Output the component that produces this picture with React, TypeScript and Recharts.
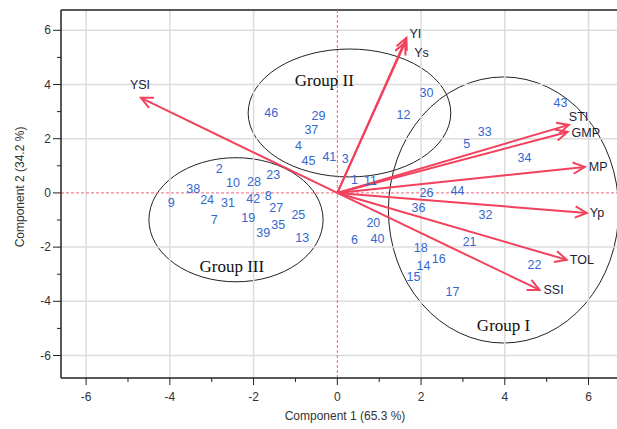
import React from 'react';
import {
  ScatterChart,
  Scatter,
  XAxis,
  YAxis,
  ReferenceLine,
  ReferenceArea,
  ReferenceDot,
} from 'recharts';

// genotype scores
const SAMPLE_IDS = [
  '1', '2', '3', '4', '5', '6', '7', '8', '9', '10', '11', '12', '13', '14', '15', '16',
  '17', '18', '19', '20', '21', '22', '23', '24', '25', '26', '27', '28', '29', '30', '31',
  '32', '33', '34', '35', '36', '37', '38', '39', '40', '41', '42', '43', '44', '45', '46',
];
const SAMPLE_PC1 = [
  0.41, -2.82, 0.19, -0.93, 3.09, 0.41, -2.94, -1.65, -3.97, -2.49, 0.79, 1.58, -0.84, 2.06, 1.82, 2.42,
  2.75, 1.99, -2.13, 0.86, 3.16, 4.71, -1.53, -3.11, -0.93, 2.13, -1.46, -1.99, -0.45, 2.13, -2.61,
  3.54, 3.52, 4.47, -1.41, 1.94, -0.62, -3.44, -1.77, 0.96, -0.19, -2.01, 5.33, 2.87, -0.69, -1.58,
];
const SAMPLE_PC2 = [
  0.48, 0.89, 1.25, 1.73, 1.81, -1.73, -1.0, -0.11, -0.37, 0.37, 0.44, 2.88, -1.66, -2.69, -3.1, -2.44,
  -3.65, -2.03, -0.92, -1.11, -1.81, -2.66, 0.66, -0.26, -0.81, 0.0, -0.55, 0.41, 2.84, 3.69, -0.37,
  -0.81, 2.25, 1.29, -1.18, -0.55, 2.32, 0.15, -1.48, -1.7, 1.33, -0.22, 3.32, 0.07, 1.18, 2.95,
];

// trait loadings (vectors)
const TRAITS = ['YSI', 'YI', 'Ys', 'STI', 'GMP', 'MP', 'Yp', 'TOL', 'SSI'];
const TRAIT_PC1 = [-4.69, 1.65, 1.62, 5.53, 5.5, 5.91, 5.96, 5.48, 4.83];
const TRAIT_PC2 = [3.51, 5.72, 5.55, 2.51, 2.25, 0.96, -0.74, -2.47, -3.58];

// cluster ellipses
const GROUPS = ['Group I', 'Group II', 'Group III'];
const GROUP_CX = [3.97, 0.29, -2.42];
const GROUP_CY = [-0.63, 2.95, -0.99];
const GROUP_RX = [2.75, 2.42, 2.08];
const GROUP_RY = [4.91, 2.36, 2.29];
const GROUP_LABEL_X = [3.97, -0.31, -2.52];
const GROUP_LABEL_Y = [-4.9, 4.13, -2.73];

const AXIS_TICKS = [-6, -5, -4, -3, -2, -1, 0, 1, 2, 3, 4, 5, 6];
const GRID_VALUES = [-6, -4, -2, 2, 4, 6];

const samples = SAMPLE_IDS.map((id, i) => ({ id, x: SAMPLE_PC1[i], y: SAMPLE_PC2[i] }));
const traits = TRAITS.map((name, i) => ({ name, x: TRAIT_PC1[i], y: TRAIT_PC2[i] }));

const ARROW = '#f2415c';
const LABEL_NUDGE: Record<string, [number, number, 'start' | 'middle']> = {
  YSI: [-1, -13, 'middle'],
  YI: [3, -4, 'start'],
  Ys: [9, 10, 'start'],
  STI: [0, -8, 'start'],
  GMP: [4, 1, 'start'],
  MP: [4, 0, 'start'],
  Yp: [3, 0, 'start'],
  TOL: [3, 0, 'start'],
  SSI: [4, 0, 'start'],
};

const XTick = (props: any) => {
  const { x, y, payload } = props;
  const major = payload.value % 2 === 0;
  return (
    <g>
      <line x1={x} x2={x} y1={y} y2={y + (major ? 7 : 4)} stroke="#222" />
      {major && (
        <text x={x} y={y + 23} textAnchor="middle" fontSize={12} fill="#333" fontFamily="Liberation Sans, Arial">
          {payload.value}
        </text>
      )}
    </g>
  );
};

const YTick = (props: any) => {
  const { x, y, payload } = props;
  const major = payload.value % 2 === 0;
  return (
    <g>
      <line x1={x - (major ? 8 : 4)} x2={x} y1={y} y2={y} stroke="#222" />
      {major && (
        <text x={x - 10} y={y + 4} textAnchor="end" fontSize={12} fill="#333" fontFamily="Liberation Sans, Arial">
          {payload.value}
        </text>
      )}
    </g>
  );
};

const arrowShape = (name: string) => (p: any) => {
  const { x1, y1, x2, y2 } = p;
  const ang = Math.atan2(y2 - y1, x2 - x1);
  const len = 13;
  const spread = 0.45;
  const ax = x2 - len * Math.cos(ang - spread);
  const ay = y2 - len * Math.sin(ang - spread);
  const bx = x2 - len * Math.cos(ang + spread);
  const by = y2 - len * Math.sin(ang + spread);
  const [dx, dy, anchor] = LABEL_NUDGE[name];
  return (
    <g>
      <line x1={x1} y1={y1} x2={x2} y2={y2} stroke={ARROW} strokeWidth={2} />
      <polyline points={`${ax},${ay} ${x2},${y2} ${bx},${by}`} fill="none" stroke={ARROW} strokeWidth={2} />
      <text
        x={x2 + dx}
        y={y2 + dy}
        textAnchor={anchor}
        dominantBaseline="central"
        fontSize={12.5}
        fill="#1c1c3c"
        fontFamily="Liberation Sans, Arial"
      >
        {name}
      </text>
    </g>
  );
};

export default function App() {
  return (
    <div style={{ position: 'absolute', left: 0, top: 0, background: '#fff' }}>
      <ScatterChart width={617} height={429} margin={{ top: 10, right: 0, bottom: 0, left: 0 }}>
        <XAxis
          type="number"
          dataKey="x"
          domain={[-6.6, 6.68]}
          ticks={AXIS_TICKS}
          allowDataOverflow
          height={51}
          tickSize={0}
          tickMargin={0}
          tick={<XTick />}
          axisLine={{ stroke: '#222', strokeWidth: 1.5 }}
          label={{
            content: (lp: any) => {
              const vb = lp.viewBox || { x: 61, y: 378, width: 556 };
              return (
                <text x={vb.x + vb.width / 2 + 6} y={vb.y + 42} textAnchor="middle" fontSize={12} fill="#333" fontFamily="Liberation Sans, Arial">
                  Component 1 (65.3 %)
                </text>
              );
            },
          }}
        />
        <YAxis
          type="number"
          dataKey="y"
          domain={[-6.83, 6.75]}
          ticks={AXIS_TICKS}
          allowDataOverflow
          width={61}
          tickSize={0}
          tickMargin={0}
          tick={<YTick />}
          axisLine={{ stroke: '#222', strokeWidth: 1.5 }}
          label={{
            content: (lp: any) => {
              const vb = lp.viewBox || { x: 0, y: 10, height: 368 };
              const cy = vb.y + vb.height / 2 - 7;
              return (
                <text x={20} y={cy} transform={`rotate(-90, 20, ${cy})`} textAnchor="middle" dominantBaseline="central" fontSize={12} fill="#333" fontFamily="Liberation Sans, Arial">
                  Component 2 (34.2 %)
                </text>
              );
            },
          }}
        />

        {GRID_VALUES.map((v) => (
          <ReferenceLine key={`gx${v}`} x={v} stroke="#dcdcdc" strokeWidth={1.5} />
        ))}
        {GRID_VALUES.map((v) => (
          <ReferenceLine key={`gy${v}`} y={v} stroke="#dcdcdc" strokeWidth={1.5} />
        ))}
        <ReferenceLine y={6.75} stroke="#222" strokeWidth={1.5} ifOverflow="visible" />
        <ReferenceLine x={0} stroke="#f06478" strokeDasharray="3 2" />
        <ReferenceLine y={0} stroke="#f06478" strokeDasharray="3 2" />

        {GROUPS.map((g, i) => (
          <ReferenceArea
            key={g}
            x1={GROUP_CX[i] - GROUP_RX[i]}
            x2={GROUP_CX[i] + GROUP_RX[i]}
            y1={GROUP_CY[i] - GROUP_RY[i]}
            y2={GROUP_CY[i] + GROUP_RY[i]}
            ifOverflow="visible"
            shape={(p: any) => (
              <ellipse
                cx={p.x + p.width / 2}
                cy={p.y + p.height / 2}
                rx={Math.abs(p.width / 2)}
                ry={Math.abs(p.height / 2)}
                fill="none"
                stroke="#222"
                strokeWidth={1}
              />
            )}
          />
        ))}
        {GROUPS.map((g, i) => (
          <ReferenceDot
            key={`l${g}`}
            x={GROUP_LABEL_X[i]}
            y={GROUP_LABEL_Y[i]}
            ifOverflow="visible"
            shape={(p: any) => (
              <text x={p.cx} y={p.cy} textAnchor="middle" dominantBaseline="central" fontSize={17} fill="#111" fontFamily="Liberation Serif, Times New Roman, serif">
                {g}
              </text>
            )}
          />
        ))}

        {traits.map((t) => (
          <ReferenceLine
            key={t.name}
            segment={[{ x: 0, y: 0 }, { x: t.x, y: t.y }]}
            ifOverflow="visible"
            stroke={ARROW}
            shape={arrowShape(t.name)}
          />
        ))}

        <Scatter
          data={samples}
          isAnimationActive={false}
          shape={(p: any) => (
            <text x={p.cx} y={p.cy} textAnchor="middle" dominantBaseline="central" fontSize={12.5} fill="#3567d0" fontFamily="Liberation Sans, Arial">
              {p.payload.id}
            </text>
          )}
        />
      </ScatterChart>
    </div>
  );
}
